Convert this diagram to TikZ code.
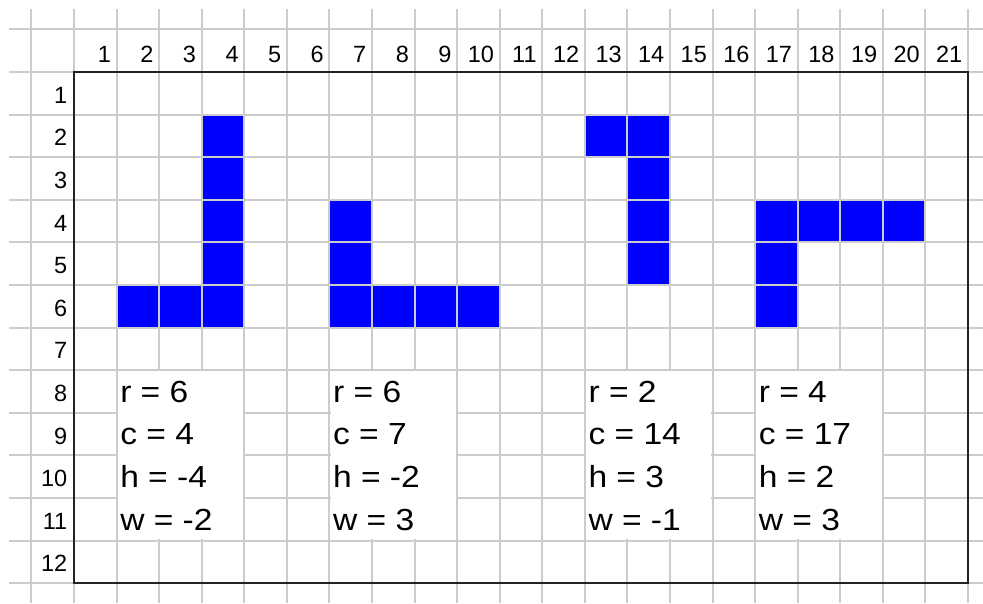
\documentclass[tikz,border=0pt]{standalone}
\usepackage{fontspec}
\setmainfont{Liberation Sans}
\newfontfamily\widesans[FakeStretch=1.1]{Liberation Sans}
\definecolor{gridgray}{HTML}{CCCCCC}
\definecolor{cellblue}{HTML}{0000FF}
\definecolor{bordergray}{HTML}{222222}
\tikzset{
  gridline/.style={draw=gridgray, line width=2pt},
  bluecell/.style={fill=cellblue},
  textbox/.style={fill=white},
  frame/.style={draw=bordergray, line width=2pt},
  headlabel/.style={anchor=base east, inner sep=0pt, font=\fontsize{23.5}{28}\selectfont, text=black},
  bodylabel/.style={anchor=base west, inner sep=0pt, font=\widesans\fontsize{30.5}{36}\selectfont, text=black}
}
\newcommand{\PX}{42.57}
\newcommand{\PY}{42.6}
\begin{document}
\begin{tikzpicture}[x=1pt, y=-1pt]
\useasboundingbox (0,0) rectangle (983,603);
% blue cells (column, row)
\foreach \c/\r in {4/2,4/3,4/4,4/5,4/6,2/6,3/6,
                   7/4,7/5,7/6,8/6,9/6,10/6,
                   13/2,14/2,14/3,14/4,14/5,
                   17/4,18/4,19/4,20/4,17/5,17/6}{
  \pgfmathsetmacro{\xa}{74+\PX*(\c-1)}
  \pgfmathsetmacro{\xb}{74+\PX*\c}
  \pgfmathsetmacro{\ya}{72+\PY*(\r-1)}
  \pgfmathsetmacro{\yb}{72+\PY*\r}
  \fill[bluecell] (\xa,\ya) rectangle (\xb,\yb);
}
% grid lines
\foreach \i in {0,...,22}{
  \pgfmathsetmacro{\gx}{31.4+\PX*\i}
  \draw[gridline] (\gx,9) -- (\gx,603);
}
\foreach \j in {0,...,13}{
  \pgfmathsetmacro{\gy}{29.4+\PY*\j}
  \draw[gridline] (9,\gy) -- (983,\gy);
}
% text boxes (merged cells), columns c1..c2, rows 8..11
\foreach \ca/\cb in {2/4,7/9,13/15,17/19}{
  \pgfmathsetmacro{\xa}{74+\PX*(\ca-1)+1.2}
  \pgfmathsetmacro{\xb}{74+\PX*\cb-1.2}
  \pgfmathsetmacro{\ya}{72+\PY*7+1.2}
  \pgfmathsetmacro{\yb}{72+\PY*11-1.2}
  \fill[textbox] (\xa,\ya) rectangle (\xb,\yb);
}
% column headers
\foreach \c in {1,...,21}{
  \pgfmathsetmacro{\hx}{74+\PX*\c-5.5}
  \node[headlabel] (col\c) at (\hx,62) {\c};
}
% row headers
\foreach \r in {1,...,12}{
  \pgfmathsetmacro{\hy}{72+\PY*(\r-0.5)+10}
  \node[headlabel] (row\r) at (67.5,\hy) {\r};
}
% body texts
\foreach \k/\ca/\ra/\rb/\rc/\rd in {a/2/r = 6/c = 4/h = -4/w = -2,
                                   b/7/r = 6/c = 7/h = -2/w = 3,
                                   c/13/r = 2/c = 14/h = 3/w = -1,
                                   d/17/r = 4/c = 17/h = 2/w = 3}{
  \pgfmathsetmacro{\tx}{74+\PX*(\ca-1)+3.5}
  \pgfmathsetmacro{\tya}{72+\PY*7.5+10.8}
  \pgfmathsetmacro{\tyb}{72+\PY*8.5+10.8}
  \pgfmathsetmacro{\tyc}{72+\PY*9.5+10.8}
  \pgfmathsetmacro{\tyd}{72+\PY*10.5+10.8}
  \node[bodylabel] (t\k r) at (\tx,\tya) {\ra};
  \node[bodylabel] (t\k c) at (\tx,\tyb) {\rb};
  \node[bodylabel] (t\k h) at (\tx,\tyc) {\rc};
  \node[bodylabel] (t\k w) at (\tx,\tyd) {\rd};
}
% outer frame
\draw[frame] (74,72) rectangle (968,583.2);
\end{tikzpicture}
\end{document}
